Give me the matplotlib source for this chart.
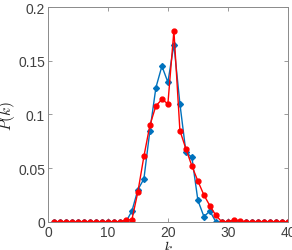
import matplotlib
matplotlib.use("Agg")
import matplotlib.pyplot as plt
import numpy as np

k = list(range(1, 41))
p_blue = [0]*12 + [0.0, 0.010, 0.030, 0.040, 0.085, 0.125, 0.145, 0.130, 0.165, 0.110,
                   0.065, 0.060, 0.020, 0.005, 0.010, 0.0, 0.0, 0.0, 0.0, 0.0] + [0]*8
p_red = [0]*12 + [0.002, 0.002, 0.028, 0.061, 0.090, 0.108, 0.114, 0.110, 0.178, 0.085,
                  0.068, 0.052, 0.038, 0.025, 0.015, 0.006, 0.0, 0.0, 0.002, 0.001] + [0]*8

xticks = [0, 10, 20, 30, 40]
yticks = [0, 0.05, 0.1, 0.15, 0.2]
yticklabels = ["0", "0.05", "0.1", "0.15", "0.2"]

plt.rcParams['font.family'] = ['Liberation Sans', 'DejaVu Sans']
plt.rcParams['mathtext.fontset'] = 'cm'
fig = plt.figure(figsize=(2.92, 2.51), dpi=100)
ax = fig.add_axes([0.164, 0.112, 0.822, 0.856])
ax.plot(k, p_blue, color='#0072BD', marker='D', markersize=3, linewidth=1.0)
ax.plot(k, p_red, color='#FF0000', marker='o', markersize=3.5, linewidth=1.0)
ax.set_xlim(0, 40)
ax.set_ylim(0, 0.2)
ax.set_xticks(xticks)
ax.set_yticks(yticks)
ax.set_yticklabels(yticklabels)
for s in ax.spines.values():
    s.set_color('#8a8a8a')
    s.set_linewidth(0.7)
ax.tick_params(direction='in', length=3, width=0.6, colors='#8a8a8a', labelcolor='#404040',
               labelsize=10, top=True, right=True, pad=2)
ax.set_xlabel('$k$', fontsize=11, color='#222222', labelpad=0)
ax.set_ylabel('$P(k)$', fontsize=11, color='#222222', labelpad=1)
fig.savefig('out.png', dpi=100)
